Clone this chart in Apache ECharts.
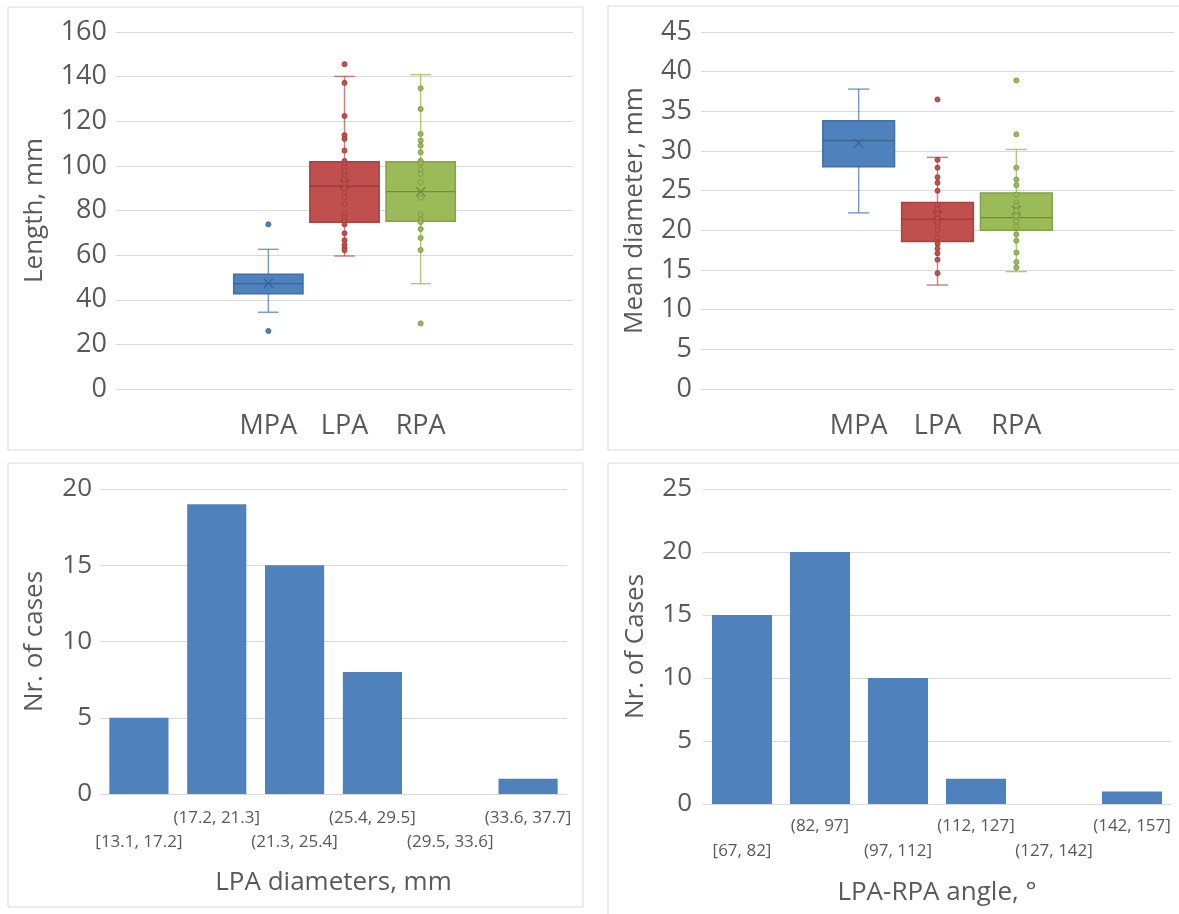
<!DOCTYPE html>
<html><head><meta charset="utf-8">
<script src="https://cdn.jsdelivr.net/npm/echarts@6/dist/echarts.min.js"></script>
<style>html,body{margin:0;padding:0;background:#fff}#c{width:1179px;height:914px}</style>
</head><body><div id="c"></div>
<script>
// ---------------- data ----------------
const boxCategories = ['MPA', 'LPA', 'RPA'];
// [lower whisker, Q1, median, Q3, upper whisker]
const lengthBoxes = [
  [34.4, 42.7, 47.2, 51.4, 62.6],
  [59.6, 74.7, 90.9, 101.8, 140.1],
  [47.2, 75.2, 88.5, 101.8, 140.9]
];
const lengthMeans = [47.4, 91.8, 88.4];
const lengthPointsMPA = [73.8, 26.0];
const lengthPointsLPA = [145.6, 137.2, 122.4, 113.8, 112.1, 106.9, 102.2, 100.9, 99.4, 97.6, 95.7, 93.7,
  91.9, 90.0, 87.9, 86.0, 83.0, 78.8, 77.0, 75.5, 73.8, 69.8, 66.7, 64.7, 63.2, 62.2];
const lengthPointsRPA = [134.8, 125.5, 114.3, 111.3, 109.1, 106.1, 102.3, 101.2, 98.3, 96.4, 92.6, 85.7,
  78.4, 76.0, 74.8, 71.7, 67.7, 62.3, 29.4];

const diamBoxes = [
  [22.2, 28.0, 31.3, 33.8, 37.8],
  [13.1, 18.6, 21.4, 23.5, 29.2],
  [14.8, 20.0, 21.6, 24.7, 30.2]
];
const diamMeans = [31.0, 21.9, 22.5];
const diamPointsMPA = [];
const diamPointsLPA = [36.5, 28.9, 27.9, 26.7, 26.0, 25.0, 23.2, 22.7, 22.1, 21.5, 21.0, 20.5, 20.0, 19.1,
  18.3, 17.7, 17.1, 16.3, 14.6];
const diamPointsRPA = [38.9, 32.1, 27.9, 26.4, 25.7, 24.5, 23.5, 23.1, 22.5, 21.8, 21.1, 20.5, 19.5, 18.7,
  17.2, 16.0, 15.3];

const lpaBins = ['[13.1, 17.2]', '(17.2, 21.3]', '(21.3, 25.4]', '(25.4, 29.5]', '(29.5, 33.6]', '(33.6, 37.7]'];
const lpaCounts = [5, 19, 15, 8, 0, 1];
const angleBins = ['[67, 82]', '(82, 97]', '(97, 112]', '(112, 127]', '(127, 142]', '(142, 157]'];
const angleCounts = [15, 20, 10, 2, 0, 1];

// ---------------- styles ----------------
const FONT = 'Open Sans';
const TXT = '#595959';
const GRIDC = '#D9D9D9';
const BOX_FILL = ['#4F81BD', '#C0504D', '#9BBB59'];
const BOX_EDGE = ['#416FA6', '#A7423F', '#84A24A'];
const BOX_DARK = ['#3A6393', '#8F3836', '#6F8B3C'];
const WHISKER = ['rgba(79,129,189,0.8)', 'rgba(192,80,77,0.75)', 'rgba(155,187,89,0.8)'];
const PT_FILL = ['#4F81BD', '#C0504D', '#9BBB59'];
const PT_EDGE = ['#3F6DA5', '#A8403D', '#7F9D46'];
const PAD = 2; // empty slots on each side of the 3 box categories
const boxAxisCats = ['', ''].concat(boxCategories, ['', '']);

function renderBox(params, api) {
  const x = api.value(0);
  const lo = api.coord([x, api.value(1)]);
  const q1 = api.coord([x, api.value(2)]);
  const md = api.coord([x, api.value(3)]);
  const q3 = api.coord([x, api.value(4)]);
  const hi = api.coord([x, api.value(5)]);
  const mn = api.coord([x, api.value(6)]);
  const step = api.coord([x + 1, 0])[0] - lo[0];
  const cx = lo[0];
  const bw = step * 0.91, cw = step * 0.27;
  const k = params.dataIndex;
  const ws = { stroke: WHISKER[k], lineWidth: 1.4 };
  const ms = 4.5;
  const ds = { stroke: BOX_DARK[k], lineWidth: 1.2 };
  return {
    type: 'group',
    children: [
      { type: 'line', shape: { x1: cx, y1: q3[1], x2: cx, y2: hi[1] }, style: ws },
      { type: 'line', shape: { x1: cx - cw / 2, y1: hi[1], x2: cx + cw / 2, y2: hi[1] }, style: ws },
      { type: 'line', shape: { x1: cx, y1: q1[1], x2: cx, y2: lo[1] }, style: ws },
      { type: 'line', shape: { x1: cx - cw / 2, y1: lo[1], x2: cx + cw / 2, y2: lo[1] }, style: ws },
      { type: 'rect', shape: { x: cx - bw / 2, y: q3[1], width: bw, height: q1[1] - q3[1] },
        style: { fill: BOX_FILL[k], stroke: BOX_EDGE[k], lineWidth: 1.5 } },
      { type: 'line', shape: { x1: cx - bw / 2, y1: md[1], x2: cx + bw / 2, y2: md[1] }, style: ds },
      { type: 'line', shape: { x1: cx - ms, y1: mn[1] - ms, x2: cx + ms, y2: mn[1] + ms }, style: ds },
      { type: 'line', shape: { x1: cx - ms, y1: mn[1] + ms, x2: cx + ms, y2: mn[1] - ms }, style: ds }
    ]
  };
}

function boxData(boxes, means) {
  return boxCategories.map((c, i) => [i + PAD].concat(boxes[i], [means[i]]));
}
function pointSeries(axisIdx, catIdx, values) {
  return {
    type: 'scatter', xAxisIndex: axisIdx, yAxisIndex: axisIdx, z: 4,
    symbol: 'circle', symbolSize: 5,
    itemStyle: { color: PT_FILL[catIdx], borderColor: PT_EDGE[catIdx], borderWidth: 1, opacity: 1 },
    data: values.map(v => [catIdx + PAD, v]),
    silent: true
  };
}

const yName = (name, gap, size) => ({
  name: name, nameLocation: 'middle', nameGap: gap, nameMoveOverlap: false,
  nameTextStyle: { color: TXT, fontFamily: FONT, fontSize: size }
});
function valAxis(grid, max, interval, name, gap, labelSize, margin) {
  return Object.assign({
    type: 'value', gridIndex: grid, min: 0, max: max, interval: interval,
    axisLine: { show: false }, axisTick: { show: false },
    splitLine: { show: true, lineStyle: { color: GRIDC, width: 1.2 } },
    axisLabel: { color: TXT, fontFamily: FONT, fontSize: labelSize, margin: margin }
  }, yName(name, gap, 26));
}

const option = {
  animation: false,
  backgroundColor: '#fff',
  textStyle: { fontFamily: FONT },
  graphic: [
    { type: 'rect', shape: { x: 8, y: 7, width: 575, height: 443 }, style: { fill: 'none', stroke: GRIDC, lineWidth: 1 }, silent: true },
    { type: 'rect', shape: { x: 608, y: 6, width: 600, height: 444 }, style: { fill: 'none', stroke: GRIDC, lineWidth: 1 }, silent: true },
    { type: 'rect', shape: { x: 8, y: 463, width: 575, height: 444 }, style: { fill: 'none', stroke: GRIDC, lineWidth: 1 }, silent: true },
    { type: 'rect', shape: { x: 608, y: 463, width: 600, height: 480 }, style: { fill: 'none', stroke: GRIDC, lineWidth: 1 }, silent: true }
  ],
  grid: [
    { left: 116, top: 32, width: 457, height: 357, outerBoundsMode: 'none' },
    { left: 701, top: 32, width: 473, height: 357, outerBoundsMode: 'none' },
    { left: 100, top: 489, width: 467, height: 305, outerBoundsMode: 'none' },
    { left: 703, top: 489, width: 468, height: 315, outerBoundsMode: 'none' }
  ],
  xAxis: [
    { type: 'category', gridIndex: 0, data: boxAxisCats, boundaryGap: false,
      axisLine: { show: false }, axisTick: { show: false }, splitLine: { show: false },
      axisLabel: { interval: 0, color: TXT, fontFamily: FONT, fontSize: 27, lineHeight: 30, margin: 22 } },
    { type: 'category', gridIndex: 1, data: boxAxisCats, boundaryGap: false,
      axisLine: { show: false }, axisTick: { show: false }, splitLine: { show: false },
      axisLabel: { interval: 0, color: TXT, fontFamily: FONT, fontSize: 27, lineHeight: 30, margin: 22 } },
    Object.assign({ type: 'category', gridIndex: 2, data: lpaBins,
      axisLine: { show: false }, axisTick: { show: false },
      axisLabel: { interval: 0, color: TXT, fontFamily: FONT, fontSize: 17, lineHeight: 24, margin: 12,
        formatter: (v, i) => (i % 2 === 0 ? '\n' + v : v) } }, yName('LPA diameters, mm', 76, 26)),
    Object.assign({ type: 'category', gridIndex: 3, data: angleBins,
      axisLine: { show: false }, axisTick: { show: false },
      axisLabel: { interval: 0, color: TXT, fontFamily: FONT, fontSize: 17, lineHeight: 25, margin: 10,
        formatter: (v, i) => (i % 2 === 0 ? '\n' + v : v) } }, yName('LPA-RPA angle, °', 76, 26))
  ],
  yAxis: [
    valAxis(0, 160, 20, 'Length, mm', 68, 27, 9),
    valAxis(1, 45, 5, 'Mean diameter, mm', 53, 27, 9),
    valAxis(2, 20, 5, 'Nr. of cases', 52, 26, 8),
    valAxis(3, 25, 5, 'Nr. of Cases', 54, 26, 11)
  ],
  series: [
    { type: 'custom', xAxisIndex: 0, yAxisIndex: 0, z: 3, clip: false, renderItem: renderBox,
      data: boxData(lengthBoxes, lengthMeans), silent: true },
    pointSeries(0, 0, lengthPointsMPA),
    pointSeries(0, 1, lengthPointsLPA),
    pointSeries(0, 2, lengthPointsRPA),
    { type: 'custom', xAxisIndex: 1, yAxisIndex: 1, z: 3, clip: false, renderItem: renderBox,
      data: boxData(diamBoxes, diamMeans), silent: true },
    pointSeries(1, 0, diamPointsMPA),
    pointSeries(1, 1, diamPointsLPA),
    pointSeries(1, 2, diamPointsRPA),
    { type: 'bar', xAxisIndex: 2, yAxisIndex: 2, data: lpaCounts, barCategoryGap: '24%',
      itemStyle: { color: '#4F81BD' }, silent: true },
    { type: 'bar', xAxisIndex: 3, yAxisIndex: 3, data: angleCounts, barCategoryGap: '23%',
      itemStyle: { color: '#4F81BD' }, silent: true }
  ]
};

const chart = echarts.init(document.getElementById('c'));
chart.setOption(option);
</script>
</body></html>
